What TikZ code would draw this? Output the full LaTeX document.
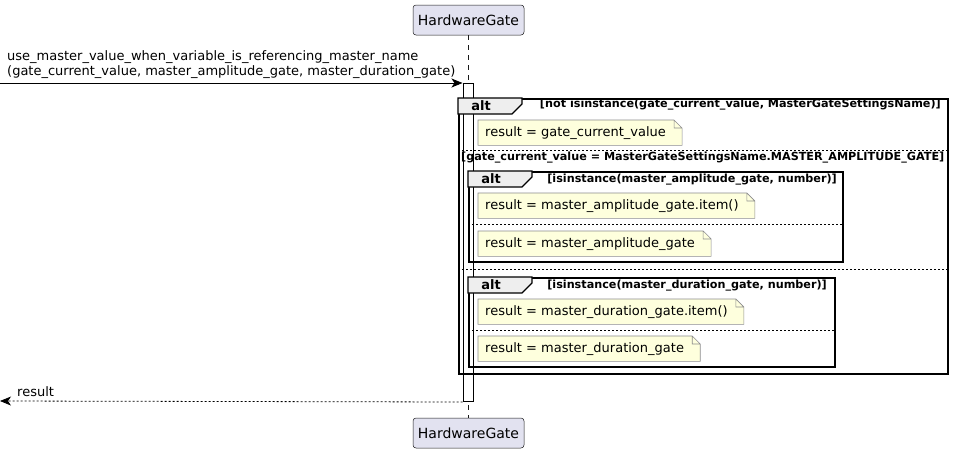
\documentclass[tikz,border=0pt]{standalone}
\usepackage{fontspec}
\setmainfont{DejaVu Sans}
\usetikzlibrary{arrows.meta,positioning}

\definecolor{partbg}{HTML}{E2E2F0}
\definecolor{partline}{HTML}{181818}
\definecolor{notebg}{HTML}{FEFFDD}
\definecolor{notegray}{HTML}{8C8C8C}
\definecolor{tabbg}{HTML}{EEEEEE}

\begin{document}
\begin{tikzpicture}[
  x=1pt, y=-1pt,
  part/.style={draw=partline, fill=partbg, rounded corners=3pt, line width=0.5pt, minimum width=111pt, minimum height=30pt, inner sep=0pt, font=\fontsize{14}{16}\selectfont},
  frame/.style={draw, line width=1.5pt, anchor=north west, inner sep=0pt},
  tab/.style={draw, fill=tabbg, line width=1.2pt},
  tablbl/.style={font=\fontsize{13}{15}\selectfont\bfseries, inner sep=0pt},
  cond/.style={font=\fontsize{11.2}{13}\selectfont\bfseries, inner sep=0pt},
  sep/.style={dash pattern=on 2pt off 2pt, line width=0.8pt},
  note/.style={fill=notebg, anchor=north west, minimum height=25pt, inner sep=0pt, inner xsep=0pt, text height=10pt, text depth=3pt, font=\fontsize{13}{15}\selectfont, align=left},
  msg/.style={font=\fontsize{13}{15}\selectfont, inner sep=0pt, align=left},
  arr/.style={-{Stealth[length=11pt, width=9pt, inset=3pt]}, line width=0.8pt}
]
  \useasboundingbox (0,0) rectangle (953,453);

  % participant and lifeline
  \node[part] (hgTop) at (468.5,20) {HardwareGate};
  \node[part] (hgBot) at (468.5,433) {HardwareGate};
  \draw[partline, dash pattern=on 5pt off 5pt, line width=0.5pt] (hgTop) -- (hgBot);
  \node[draw, fill=white, line width=1pt, minimum width=10pt, minimum height=318pt, inner sep=0pt, anchor=north] (act) at (468,83) {};

  % alt frames
  \node[frame, minimum width=489pt, minimum height=275pt] (altOuter) at (458,98) {};
  \node[frame, minimum width=374pt, minimum height=90pt] (altAmp) at (468,171) {};
  \node[frame, minimum width=366pt, minimum height=89pt] (altDur) at (468,277) {};
  \foreach \fr in {altOuter, altAmp, altDur}
    \draw[tab] (\fr.north west) -- ++(64,0) -- ++(0,6) -- ++(-10,10) -- ++(-54,0) -- cycle;
  \node[tablbl] (lblOuter) at (481,106) {alt};
  \node[tablbl] (lblAmp) at (491,179) {alt};
  \node[tablbl] (lblDur) at (491,285) {alt};

  \node[cond, anchor=east] (condOuter) at (941,105) {[not isinstance(gate\_current\_value, MasterGateSettingsName)]};
  \node[cond, anchor=east] (condAmp) at (837,180) {[isinstance(master\_amplitude\_gate, number)]};
  \node[cond, anchor=east] (condDur) at (827,286) {[isinstance(master\_duration\_gate, number)]};

  % else branches
  \draw[sep] (altOuter.west |- 0,150) -- (altOuter.east |- 0,150);
  \node[cond, anchor=west] (elseOuter) at (461,158) {[gate\_current\_value = MasterGateSettingsName.MASTER\_AMPLITUDE\_GATE]};
  \draw[sep] (altAmp.west |- 0,224) -- (altAmp.east |- 0,224);
  \draw[sep] (altOuter.west |- 0,269) -- (altOuter.east |- 0,269);
  \draw[sep] (altDur.west |- 0,330) -- (altDur.east |- 0,330);

  % notes
  \foreach \nm/\yy/\txt in {
      noteGate/120/{result = gate\_current\_value},
      noteAmpItem/193/{result = master\_amplitude\_gate.item()},
      noteAmp/231/{result = master\_amplitude\_gate},
      noteDurItem/299/{result = master\_duration\_gate.item()},
      noteDur/336/{result = master\_duration\_gate}} {
    \node[note] (\nm) at (478,\yy) {\hspace{7pt}\txt\hspace{16pt}};
    \fill[white] ([xshift=-8pt]\nm.north east) -- (\nm.north east) -- ([yshift=-8pt]\nm.north east) -- cycle;
    \draw[notegray, line width=0.6pt] (\nm.north west) -- ([xshift=-8pt]\nm.north east) -- ([yshift=-8pt]\nm.north east)
      -- (\nm.south east) -- (\nm.south west) -- cycle
      ([xshift=-8pt]\nm.north east) |- ([yshift=-8pt]\nm.north east);
  }

  % messages
  \coordinate (caller) at (0,83);
  \coordinate (back) at (0,401);
  \draw[arr] (caller) -- (act.north west);
  \node[msg, anchor=south west] (callLbl) at (7,79) {use\_master\_value\_when\_variable\_is\_referencing\_master\_name\\(gate\_current\_value, master\_amplitude\_gate, master\_duration\_gate)};
  \draw[arr, dash pattern=on 2pt off 2pt] (act.south west) -- (back);
  \node[msg, anchor=south west] (backLbl) at (17,397) {result};
\end{tikzpicture}
\end{document}
